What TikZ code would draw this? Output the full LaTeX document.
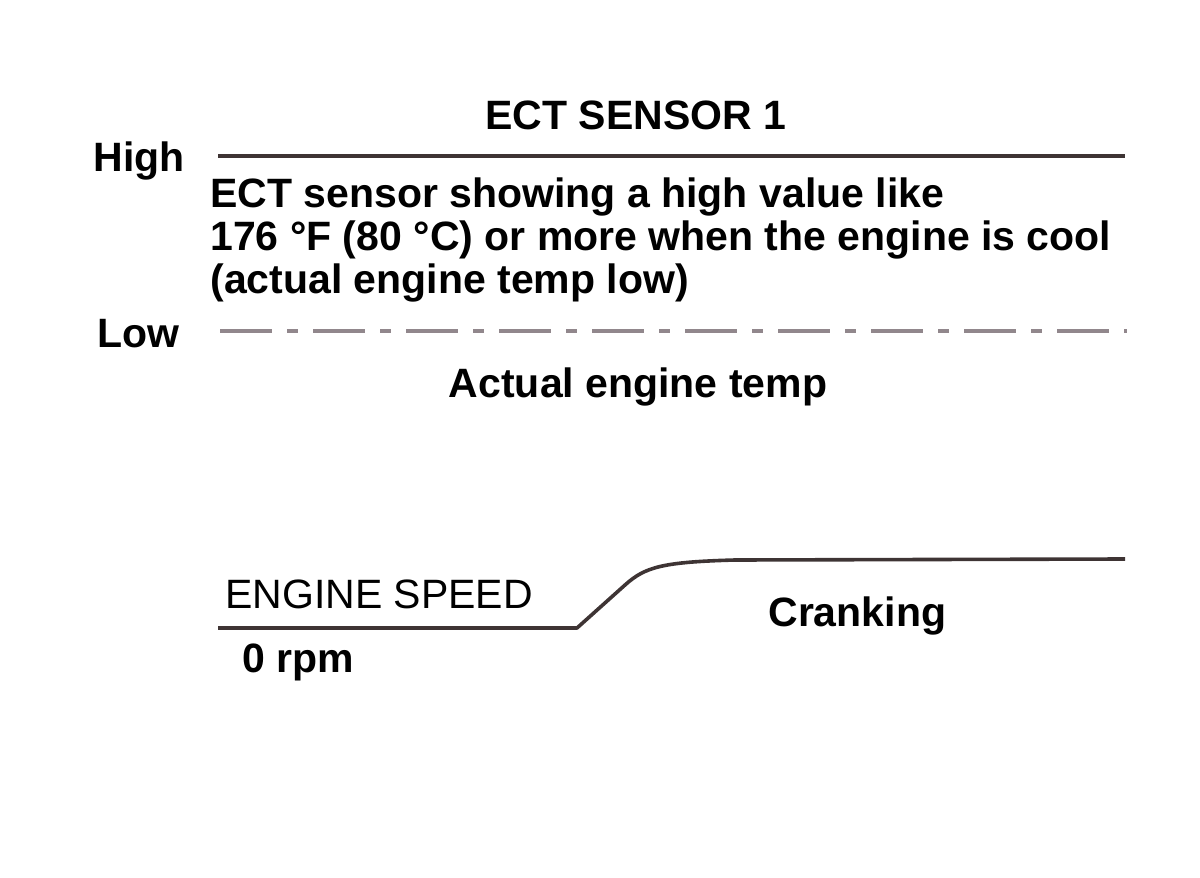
\documentclass[tikz,border=0pt]{standalone}
\usepackage{fontspec}
\setmainfont{Liberation Sans}
\definecolor{traceclr}{RGB}{62,52,52}
\definecolor{actualclr}{RGB}{145,135,140}
\begin{document}
\begin{tikzpicture}[x=0.5pt,y=-0.5pt,line join=round,
  txt/.style={inner sep=0pt,font=\fontsize{20.5}{21.5}\selectfont\bfseries},
  trace/.style={traceclr,line width=1.8pt},
  actual/.style={actualclr,line width=1.8pt,dash pattern=on 26pt off 7.5pt on 5.5pt off 7.5pt}]
\useasboundingbox (0,0) rectangle (1200,878);
% ECT sensor 1
\node[txt,anchor=base] (title) at (636,129) {ECT SENSOR 1};
\node[txt,anchor=base west] (high) at (93,171) {High};
\node[txt,anchor=base west] (low) at (97,347) {Low};
\coordinate (hs) at (218,156);
\coordinate (he) at (1125,156);
\draw[trace] (hs) -- (he);
\node[txt,anchor=north west,align=left] (note) at (210,177.5)
  {ECT sensor showing a high value like\\176 °F (80 °C) or more when the engine is cool\\(actual engine temp low)};
\coordinate (ls) at (220,331);
\coordinate (le) at (1127,331);
\draw[actual] (ls) -- (le);
\node[txt,anchor=base] (act) at (638,397) {Actual engine temp};
% engine speed
\node[txt,anchor=base west,font=\fontsize{20.5}{21.5}\selectfont] (spd) at (225,608) {ENGINE SPEED};
\node[txt,anchor=base west] (rpm) at (242,672) {0 rpm};
\node[txt,anchor=base west] (crank) at (768,626) {Cranking};
\coordinate (ss) at (218,628);
\coordinate (se) at (1125,559);
\draw[trace] (ss) -- (577,628) -- (625,585) .. controls (645,567) and (662,562) .. (735,560) -- (se);
\end{tikzpicture}
\end{document}
